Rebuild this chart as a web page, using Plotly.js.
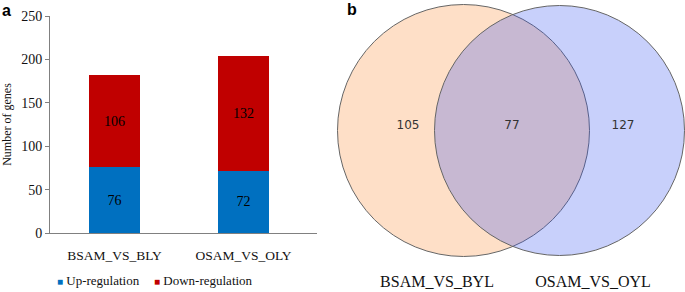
<!DOCTYPE html>
<html>
<head>
<meta charset="utf-8">
<script src="https://cdn.plot.ly/plotly-3.0.1.min.js"></script>
<style>html,body{margin:0;padding:0;background:#fff;}#chart{width:685px;height:292px;}</style>
</head>
<body>
<div id="chart"></div>
<script>
// ---- data ----
var categories = ['BSAM_VS_BLY', 'OSAM_VS_OLY'];
var upRegulation = [76, 72];
var downRegulation = [106, 132];
var seriesNames = ['Up-regulation', 'Down-regulation'];
var yTicks = [0, 50, 100, 150, 200, 250];
var vennSets = ['BSAM_VS_BYL', 'OSAM_VS_OYL'];
var vennCounts = [105, 77, 127]; // left only, shared, right only

// ---- layout geometry (pixel space of the right panel) ----
var W = 685, H = 292;
var serif = 'Liberation Serif, Times New Roman, serif';
var C1 = {cx: 463.5, cy: 130.5, r: 126};
var C2 = {cx: 559.5, cy: 130.5, r: 125};
var countX = [408, 512, 623], countY = 126;
var setLabelX = [437, 593], setLabelY = 283;

var traces = [
  {type: 'bar', x: categories, y: upRegulation, name: seriesNames[0],
   marker: {color: '#0070C0'}, width: 0.4, text: upRegulation.map(String),
   textposition: 'inside', insidetextanchor: 'middle', constraintext: 'none',
   textfont: {family: serif, size: 14, color: '#000'}, showlegend: false,
   xaxis: 'x', yaxis: 'y', hoverinfo: 'y+name'},
  {type: 'bar', x: categories, y: downRegulation, name: seriesNames[1],
   marker: {color: '#C00000'}, width: 0.4, text: downRegulation.map(String),
   textposition: 'inside', insidetextanchor: 'middle', constraintext: 'none',
   textfont: {family: serif, size: 14, color: '#000'}, showlegend: false,
   xaxis: 'x', yaxis: 'y', hoverinfo: 'y+name'},
  {type: 'scatter', mode: 'text', x: countX, y: [countY, countY, countY],
   text: vennCounts.map(String), textposition: 'middle center',
   textfont: {family: 'DejaVu Sans, sans-serif', size: 12, color: '#333'},
   xaxis: 'x2', yaxis: 'y2', showlegend: false, hoverinfo: 'text'},
  {type: 'scatter', mode: 'text', x: setLabelX, y: [setLabelY, setLabelY],
   text: vennSets, textposition: 'middle center',
   textfont: {family: serif, size: 16, color: '#111'},
   xaxis: 'x2', yaxis: 'y2', showlegend: false, hoverinfo: 'none'}
];

function circ(c, fill) {
  return {type: 'circle', xref: 'x2', yref: 'y2', layer: 'below',
    x0: c.cx - c.r, x1: c.cx + c.r, y0: c.cy - c.r, y1: c.cy + c.r,
    fillcolor: fill, line: {color: '#666666', width: 1}};
}

var px0 = 50, px1 = 317, pyTop = 16, pyBot = 233;

var layout = {
  width: W, height: H, margin: {l: 0, r: 0, t: 0, b: 0},
  paper_bgcolor: '#fff', plot_bgcolor: 'rgba(0,0,0,0)',
  barmode: 'stack', showlegend: false,
  font: {family: serif, size: 13, color: '#111'},
  xaxis: {domain: [px0 / W, px1 / W], range: [-0.5, 1.57], showline: true,
    linecolor: '#808080', linewidth: 1, ticks: 'outside', ticklen: 10,
    tickcolor: 'rgba(0,0,0,0)', showgrid: false, zeroline: false,
    tickfont: {family: serif, size: 13.5, color: '#111'}, fixedrange: true},
  yaxis: {domain: [(H - pyBot) / H, (H - pyTop) / H], range: [0, 250],
    tickvals: yTicks, showline: true, linecolor: '#808080', linewidth: 1,
    ticks: 'outside', ticklen: 4, tickcolor: '#808080', showgrid: false,
    zeroline: false, tickfont: {family: serif, size: 14, color: '#111'},
    title: {text: 'Number of genes', font: {family: serif, size: 12, color: '#111'}, standoff: 8},
    fixedrange: true},
  xaxis2: {domain: [329 / W, 1], range: [329, 685], visible: false, fixedrange: true},
  yaxis2: {domain: [0, 1], range: [292, 0], visible: false, fixedrange: true},
  shapes: [circ(C1, '#FEDFC7'), circ(C2, 'rgba(52,81,240,0.27)')],
  annotations: [
    {text: '<b>a</b>', xref: 'paper', yref: 'paper', x: 0, y: 1 - 10 / H,
     xanchor: 'left', yanchor: 'middle', showarrow: false,
     font: {family: 'Liberation Sans, Arial, sans-serif', size: 16, color: '#000'}},
    {text: '<b>b</b>', xref: 'paper', yref: 'paper', x: 345 / W, y: 1 - 9 / H,
     xanchor: 'left', yanchor: 'middle', showarrow: false,
     font: {family: 'Liberation Sans, Arial, sans-serif', size: 16, color: '#000'}},
    {text: '<span style="color:#0070C0;font-size:10px">■</span> ' + seriesNames[0],
     xref: 'paper', yref: 'paper', x: 55 / W, y: 1 - 280 / H,
     xanchor: 'left', yanchor: 'middle', showarrow: false,
     font: {family: serif, size: 13, color: '#111'}},
    {text: '<span style="color:#C00000;font-size:10px">■</span> ' + seriesNames[1],
     xref: 'paper', yref: 'paper', x: 152 / W, y: 1 - 280 / H,
     xanchor: 'left', yanchor: 'middle', showarrow: false,
     font: {family: serif, size: 13, color: '#111'}}
  ]
};

Plotly.newPlot('chart', traces, layout, {displayModeBar: false, staticPlot: true});
</script>
</body>
</html>
